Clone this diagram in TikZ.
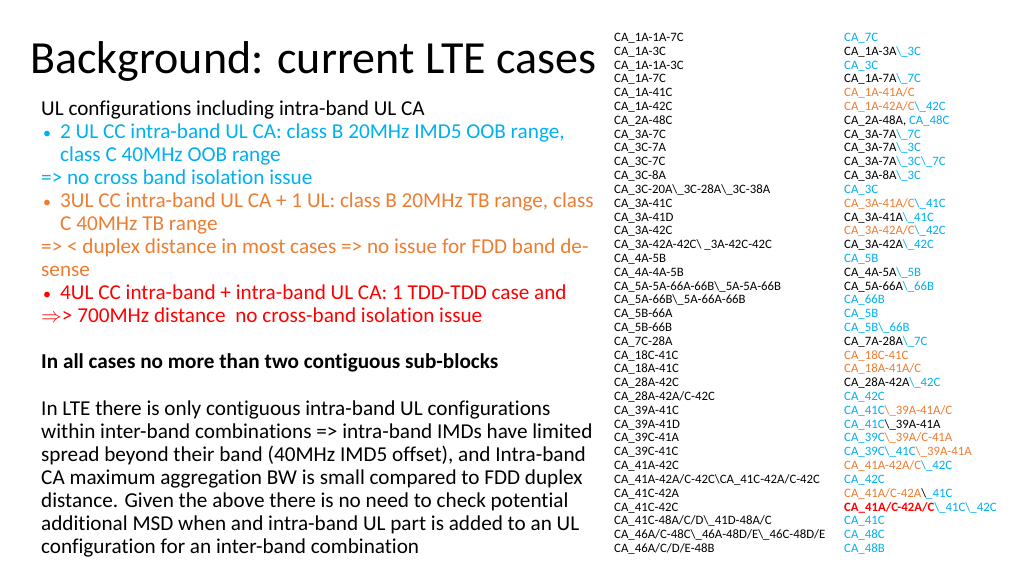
\documentclass[tikz,border=0pt]{standalone}
\usepackage{fontspec}
\setmainfont{Carlito}[Ligatures=NoCommon]
\definecolor{skyblue}{HTML}{00B0F0}
\definecolor{slideorange}{HTML}{ED7D31}
\definecolor{slidered}{HTML}{FF0000}
\newcommand{\bl}[1]{\textcolor{skyblue}{#1}}
\newcommand{\og}[1]{\textcolor{slideorange}{#1}}
\newcommand{\rd}[1]{\textcolor{slidered}{#1}}
\newcommand{\bs}{\textbackslash}
\newcommand{\bul}{\makebox[19pt][l]{\hspace{2pt}\fontsize{16}{16}\selectfont•}}
\tikzset{
  body/.style={anchor=base west,inner sep=0pt,font=\fontsize{21.2}{23}\selectfont},
  row/.style={anchor=base west,inner sep=0pt,font=\fontsize{12.8}{13}\selectfont},
}
\begin{document}
\begin{tikzpicture}[x=1pt,y=-1pt]
\useasboundingbox[fill=white] (0,0) rectangle (1024,576);
\node[anchor=base west,inner sep=0pt,font=\fontsize{46}{50}\selectfont] (title) at (30,73) {Background: current LTE cases};
% left text
\node[body] (t1) at (41,115) {UL configurations including intra-band UL CA};
\node[body,skyblue] (t2) at (41,138) {\bul 2 UL CC intra-band UL CA: class B 20MHz IMD5 OOB range,};
\node[body,skyblue] (t3) at (60,161) {class C 40MHz OOB range};
\node[body,skyblue] (t4) at (41,184) {=> no cross band isolation issue};
\node[body,slideorange] (t5) at (41,207) {\bul 3UL CC intra-band UL CA + 1 UL: class B 20MHz TB range, class};
\node[body,slideorange] (t6) at (60,230) {C 40MHz TB range};
\node[body,slideorange] (t7) at (41,253) {=> < duplex distance in most cases => no issue for FDD band de-};
\node[body,slideorange] (t8) at (41,276) {sense};
\node[body,slidered] (t9) at (41,299) {\bul 4UL CC intra-band + intra-band UL CA: 1 TDD-TDD case and};
\node[body,slidered] (t10) at (41,322) {$\Rightarrow$> 700MHz distance\ \ no cross-band isolation issue};
\node[body,font=\fontsize{21.2}{23}\selectfont\bfseries] (t11) at (41,368) {In all cases no more than two contiguous sub-blocks};
\foreach \s [count=\i] in {In LTE there is only contiguous intra-band UL configurations,
  within inter-band combinations => intra-band IMDs have limited,
  spread beyond their band (40MHz IMD5 offset){,} and Intra-band,
  CA maximum aggregation BW is small compared to FDD duplex,
  distance. Given the above there is no need to check potential,
  additional MSD when and intra-band UL part is added to an UL,
  configuration for an inter-band combination}
  \node[body] (p\i) at (41,{415+(\i-1)*23.1}) {\s};
% band combination columns
\foreach \s [count=\i] in {CA\_1A-1A-7C, CA\_1A-3C, CA\_1A-1A-3C, CA\_1A-7C, CA\_1A-41C, CA\_1A-42C,
  CA\_2A-48C, CA\_3A-7C, CA\_3C-7A, CA\_3C-7C, CA\_3C-8A, CA\_3C-20A\bs\_3C-28A\bs\_3C-38A,
  CA\_3A-41C, CA\_3A-41D, CA\_3A-42C, CA\_3A-42A-42C\bs\ \_3A-42C-42C, CA\_4A-5B, CA\_4A-4A-5B,
  CA\_5A-5A-66A-66B\bs\_5A-5A-66B, CA\_5A-66B\bs\_5A-66A-66B, CA\_5B-66A, CA\_5B-66B, CA\_7C-28A,
  CA\_18C-41C, CA\_18A-41C, CA\_28A-42C, CA\_28A-42A/C-42C, CA\_39A-41C, CA\_39A-41D, CA\_39C-41A,
  CA\_39C-41C, CA\_41A-42C, CA\_41A-42A/C-42C\bs CA\_41C-42A/C-42C, CA\_41C-42A, CA\_41C-42C,
  CA\_41C-48A/C/D\bs\_41D-48A/C, CA\_46A/C-48C\bs\_46A-48D/E\bs\_46C-48D/E, CA\_46A/C/D/E-48B}
  \node[row] (a\i) at (614,{41.5+(\i-1)*13.81}) {\s};
\foreach \s [count=\i] in {\bl{CA\_7C}, CA\_1A-3A\bl{\bs\_3C}, \bl{CA\_3C}, CA\_1A-7A\bl{\bs\_7C},
  \og{CA\_1A-41A/C}, \og{CA\_1A-42A/C}\bl{\bs\_42C}, {CA\_2A-48A, \bl{CA\_48C}}, CA\_3A-7A\bl{\bs\_7C},
  CA\_3A-7A\bl{\bs\_3C}, CA\_3A-7A\bl{\bs\_3C\bs\_7C}, CA\_3A-8A\bl{\bs\_3C}, \bl{CA\_3C},
  \og{CA\_3A-41A/C}\bl{\bs\_41C}, CA\_3A-41A\bl{\bs\_41C}, \og{CA\_3A-42A/C}\bl{\bs\_42C},
  CA\_3A-42A\bl{\bs\_42C}, \bl{CA\_5B}, CA\_4A-5A\bl{\bs\_5B}, CA\_5A-66A\bl{\bs\_66B}, \bl{CA\_66B},
  \bl{CA\_5B}, \bl{CA\_5B\bs\_66B}, CA\_7A-28A\bl{\bs\_7C}, \og{CA\_18C-41C}, \og{CA\_18A-41A/C},
  CA\_28A-42A\bl{\bs\_42C}, \bl{CA\_42C}, \bl{CA\_41C}\og{\bs\_39A-41A/C}, \bl{CA\_41C}\bs\_39A-41A,
  \bl{CA\_39C}\og{\bs\_39A/C-41A}, \bl{CA\_39C\bs\_41C}\og{\bs\_39A-41A}, \og{CA\_41A-42A/C}\bl{\bs\_42C},
  \bl{CA\_42C}, \og{CA\_41A/C-42A}\bs\bl{\_41C}, \rd{\textbf{CA\_41A/C-42A/C}}\bl{\bs\_41C\bs\_42C},
  \bl{CA\_41C}, \bl{CA\_48C}, \bl{CA\_48B}}
  \node[row] (b\i) at (844,{41.5+(\i-1)*13.81}) {\s};
\end{tikzpicture}
\end{document}
